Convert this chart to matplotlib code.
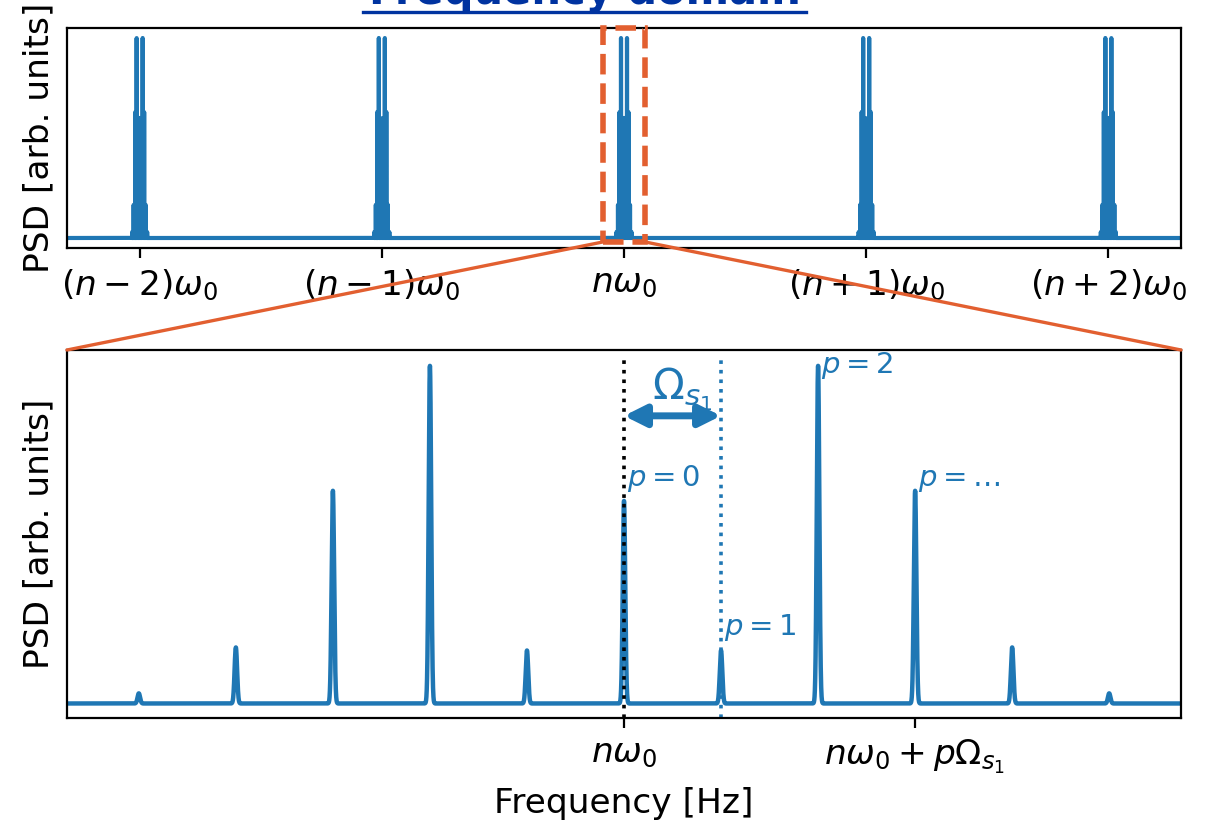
import numpy as np
import matplotlib
matplotlib.use('Agg')
import matplotlib.pyplot as plt
from matplotlib.patches import Rectangle, ConnectionPatch
from matplotlib.lines import Line2D

# harmonics of the comb (top) and sidebands around one line (bottom)
harmonics = [-2, -1, 0, 1, 2]
harmonic_labels = [r'$(n-2)\omega_0$', r'$(n-1)\omega_0$', r'$n\omega_0$',
                   r'$(n+1)\omega_0$', r'$(n+2)\omega_0$']
sideband_p = [-5, -4, -3, -2, -1, 0, 1, 2, 3, 4, 5]
sideband_amp = [0.03, 0.166, 0.63, 1.0, 0.157, 0.60, 0.157, 1.0, 0.63, 0.166, 0.03]
peak_labels = [r'$p=0$', r'$p=1$', r'$p=2$', r'$p=\ldots$']
peak_label_p = [0, 1, 2, 3]
peak_label_y = [0.62, 0.18, 0.955, 0.62]

BLUE = '#1f77b4'
ORANGE = '#E25F30'
TITLE_BLUE = '#0033A0'

def comb(x, spacing, width):
    y = np.zeros_like(x)
    for p, a in zip(sideband_p, sideband_amp):
        y += a * np.exp(-0.5 * ((x - p * spacing) / width) ** 2)
    return y

plt.rcParams['font.size'] = 12.4

W, H = 1210, 821
fig = plt.figure(figsize=(W / 200, H / 200), dpi=200)
ax1 = fig.add_axes([67 / W, 1 - 248 / H, 1114 / W, 220 / H])
ax2 = fig.add_axes([67 / W, 1 - 718 / H, 1114 / W, 368 / H])

# top: full comb
s_top = 0.0062
xt = np.linspace(-2.3, 2.3, 400001)
yt = np.zeros_like(xt)
for n in harmonics:
    yt += comb(xt - n, s_top, 0.012 * s_top)
ax1.plot(xt, yt, color=BLUE, lw=1.5)
ax1.set_xlim(-2.3, 2.3)
ax1.set_xticks(harmonics)
ax1.set_xticklabels(harmonic_labels)
ax1.set_yticks([])
ax1.set_ylabel('PSD [arb. units]')

# zoom box
hw = 0.088
rect = Rectangle((-hw, -0.02), 2 * hw, 1.07, fill=False, edgecolor=ORANGE,
                 ls='--', lw=2, clip_on=False, zorder=5)
ax1.add_patch(rect)

# bottom: sidebands around n*omega_0
xb = np.linspace(-5.74, 5.74, 60001)
ax2.plot(xb, comb(xb, 1.0, 0.013), color=BLUE, lw=1.6)
ax2.set_xlim(-5.74, 5.74)
ax2.set_ylim(-0.043, 1.047)
ax2.axvline(0, ymax=0.978, color='k', ls=':', lw=1.3)
ax2.axvline(1, ymax=0.978, color=BLUE, ls=':', lw=1.3)
ax2.annotate('', xy=(0, 0.852), xytext=(1, 0.852),
             arrowprops=dict(arrowstyle='<|-|>', color=BLUE, lw=2.5,
                             mutation_scale=16, shrinkA=0, shrinkB=0))
ax2.text(0.6, 0.90, r'$\Omega_{s_1}$', color=BLUE, fontsize=15,
         ha='center', va='baseline')
for lab, p, y in zip(peak_labels, peak_label_p, peak_label_y):
    ax2.text(p + 0.03, y, lab, color=BLUE, fontsize=10.5, ha='left', va='bottom')
ax2.set_xticks([0, 3])
ax2.set_xticklabels([r'$n\omega_0$', r'$n\omega_0 + p\Omega_{s_1}$'])
ax2.set_yticks([])
ax2.set_ylabel('PSD [arb. units]')
ax2.set_xlabel('Frequency [Hz]')

# connectors from zoom box to lower panel
for xa, xbx in [(-hw, 0), (hw, 1)]:
    con = ConnectionPatch(xyA=(xa, -0.02), coordsA=ax1.transData,
                          xyB=(xbx, 1), coordsB=ax2.transAxes,
                          color=ORANGE, lw=1.2)
    fig.add_artist(con)

# title, mostly cut off at the top edge (as in the reference)
fig.text(584.5 / W, 1 - 4 / H, 'Frequency domain', ha='center', va='baseline',
         fontsize=15, fontweight='bold', color=TITLE_BLUE)
fig.add_artist(Line2D([363 / W, 806 / W], [1 - 12 / H] * 2,
                      transform=fig.transFigure, color=TITLE_BLUE, lw=1.2))

fig.savefig('out.png', dpi=200)
